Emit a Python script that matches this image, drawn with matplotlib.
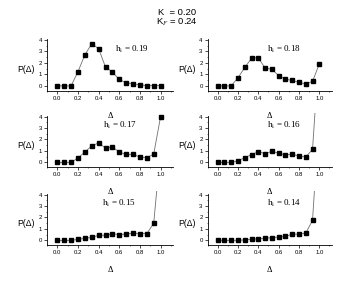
import numpy as np
import matplotlib
matplotlib.use("Agg")
import matplotlib.pyplot as plt
from matplotlib.ticker import MultipleLocator

plt.rcParams['mathtext.fontset'] = 'stix'

delta = [0.0, 0.0667, 0.1333, 0.2, 0.2667, 0.3333, 0.4, 0.4667, 0.5333,
         0.6, 0.6667, 0.7333, 0.8, 0.8667, 0.9333, 1.0]

p_019 = [0, 0, 0, 1.24, 2.7, 3.67, 3.23, 1.63, 1.21, 0.56, 0.27, 0.18, 0.09, 0.03, 0.03, 0.03]
p_018 = [0, 0, 0, 0.71, 1.6, 2.4, 2.46, 1.54, 1.45, 0.89, 0.59, 0.47, 0.3, 0.18, 0.39, 1.9]
p_017 = [0, 0, 0, 0.4, 0.9, 1.45, 1.7, 1.25, 1.36, 0.9, 0.7, 0.7, 0.48, 0.42, 0.73, 4.0]
p_016 = [0, 0, 0, 0.15, 0.42, 0.69, 0.93, 0.78, 0.96, 0.81, 0.66, 0.72, 0.57, 0.48, 1.13, 10.0]
p_015 = [0, 0, 0, 0.1, 0.18, 0.27, 0.45, 0.45, 0.58, 0.52, 0.55, 0.64, 0.6, 0.6, 1.5, 8.0]
p_014 = [0, 0, 0, 0.02, 0.05, 0.1, 0.15, 0.18, 0.25, 0.3, 0.35, 0.55, 0.55, 0.65, 1.75, 11.0]

series = [p_019, p_018, p_017, p_016, p_015, p_014]
h_labels = ["0.19", "0.18", "0.17", "0.16", "0.15", "0.14"]
title_lines = ["K  = 0.20", "K$_F$ = 0.24"]
x_ticks = [0.0, 0.2, 0.4, 0.6, 0.8, 1.0]
x_ticklabels = ["0.0", "0.2", "0.4", "0.6", "0.8", "1.0"]
y_ticks = [0, 1, 2, 3, 4]

W, H = 347, 289
fig = plt.figure(figsize=(W / 100, H / 100), dpi=100)

col_x = [47 / W, 207.5 / W]
col_w = [126 / W, 124 / W]
row_bottom_px = [90.7, 167.3, 245.3]
ax_h_px = 54.8
h_text_x = [0.56, 0.49, 0.44, 0.49, 0.43, 0.49]

sans = ['Liberation Sans', 'DejaVu Sans']
serif = ['Liberation Serif', 'DejaVu Serif']

for i, vals in enumerate(series):
    r, c = divmod(i, 2)
    bottom = 1 - row_bottom_px[r] / H
    ax = fig.add_axes([col_x[c], bottom, col_w[c], ax_h_px / H])
    ax.patch.set_facecolor('none')
    ax.plot(delta, vals, color='#707070', lw=0.6, marker='s', ms=2.6,
            mfc='black', mec='black', zorder=3)
    ax.set_xlim(-0.1, 1.12)
    ax.set_ylim(-0.42, 4.35)
    for s in ['top', 'right']:
        ax.spines[s].set_visible(False)
    ax.spines['left'].set_bounds(-0.42, 4.05)
    for s in ['left', 'bottom']:
        ax.spines[s].set_linewidth(0.6)
    ax.set_xticks(x_ticks)
    ax.set_xticklabels(x_ticklabels)
    ax.set_yticks(y_ticks)
    ax.xaxis.set_minor_locator(MultipleLocator(0.1))
    ax.yaxis.set_minor_locator(MultipleLocator(0.5))
    ax.tick_params(which='major', direction='out', length=2, width=0.5,
                   labelsize=4.3, pad=1.5)
    ax.tick_params(which='minor', direction='out', length=1, width=0.4)
    for lab in ax.get_xticklabels() + ax.get_yticklabels():
        lab.set_family(sans)
    ax.set_xlabel("Δ", family=serif, fontsize=6, labelpad=8)
    ax.text(-0.30, 1.45, "P(Δ)", family=sans, fontsize=6.2,
            ha='center', va='center', transform=ax.transData, clip_on=False)
    ax.text(h_text_x[i], 3.2, "h$_\\mathrm{i}$ = " + h_labels[i], family=serif,
            fontsize=6.5, ha='left', va='center')

fig.text(0.51, 1 - 12.7 / H, title_lines[0], family=sans, fontsize=6.8,
         ha='center', va='center')
fig.text(0.51, 1 - 22.7 / H, title_lines[1], family=sans, fontsize=6.8,
         ha='center', va='center')

fig.savefig("out.png", dpi=100)
